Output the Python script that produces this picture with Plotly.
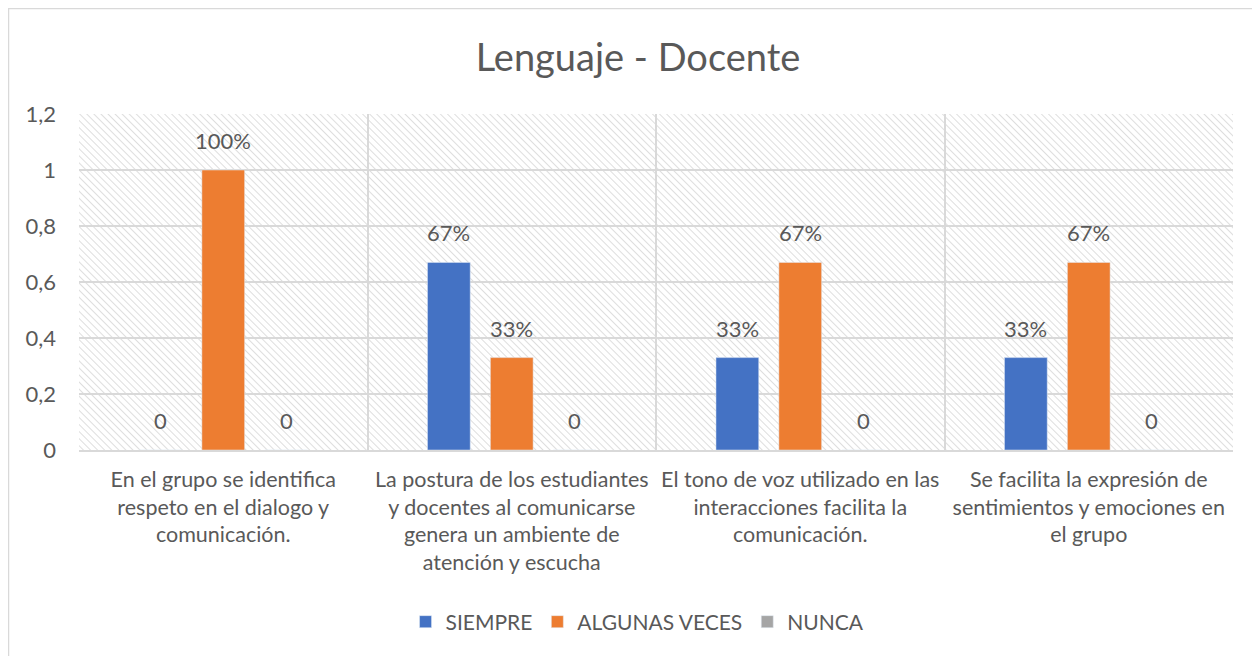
import plotly.graph_objects as go

categorias = [
    "En el grupo se identifica<br>respeto en el dialogo y<br>comunicación.",
    "La postura de los estudiantes<br>y docentes al comunicarse<br>genera un ambiente de<br>atención y escucha",
    "El tono de voz utilizado en las<br>interacciones facilita la<br>comunicación.",
    "Se facilita la expresión de<br>sentimientos y emociones en<br>el grupo",
]
siempre = [0, 0.67, 0.33, 0.33]
algunas_veces = [1, 0.33, 0.67, 0.67]
nunca = [0, 0, 0, 0]
y_ticks = [0, 0.2, 0.4, 0.6, 0.8, 1, 1.2]

W, H = 1260, 656
ML, MR, MT, MB = 71, 35, 106, 214
FONT = "Lato, 'Open Sans', sans-serif"
GRIS = "#595959"
BARGAP, GROUPGAP = 0.346, 0.32


def etiquetas(vals):
    return ["0" if v == 0 else f"{v:.0%}" for v in vals]


# fondo rayado estilo Excel
hatch = (
    "data:image/svg+xml;utf8,"
    "<svg xmlns='http://www.w3.org/2000/svg' width='100%' height='100%'>"
    "<defs><pattern id='p' width='5' height='5' patternUnits='userSpaceOnUse' "
    "patternTransform='rotate(-45)'>"
    "<line x1='0' y1='0' x2='0' y2='5' stroke='%23d6d6d6' stroke-width='1.6'/>"
    "</pattern></defs><rect width='100%' height='100%' fill='url(%23p)'/></svg>"
)

series = [
    ("SIEMPRE", siempre, "#4472c4"),
    ("ALGUNAS VECES", algunas_veces, "#ed7d31"),
    ("NUNCA", nunca, "#a5a5a5"),
]

pw = W - ML - MR
ph = H - MT - MB
slot = (1 - BARGAP) * pw / len(categorias) / len(series)

fig = go.Figure()
anots = []
for i, (nombre, vals, color) in enumerate(series):
    fig.add_trace(go.Bar(x=categorias, y=vals, name=nombre, marker_color=color))
    # etiquetas de datos separadas de la barra como en Excel
    for cat, v, t in zip(categorias, vals, etiquetas(vals)):
        anots.append(dict(x=cat, y=v, text=t, showarrow=False, yanchor="bottom",
                          xshift=(i - 1) * slot, yshift=14,
                          font=dict(size=22, color=GRIS, family=FONT)))

fig.update_layout(
    width=W, height=H,
    margin=dict(l=ML, r=MR, t=MT, b=MB),
    separators=",.",
    paper_bgcolor="white", plot_bgcolor="white",
    font=dict(family=FONT, color=GRIS),
    title=dict(text="Lenguaje - Docente", x=0.5, xanchor="center", y=1 - 50 / H,
               yanchor="middle", font=dict(size=38, color=GRIS, family=FONT)),
    barmode="group", bargap=BARGAP, bargroupgap=GROUPGAP,
    showlegend=True,
    legend=dict(orientation="h", x=0.484, xanchor="center", y=-(614 - MT - ph) / ph,
                yanchor="middle", font=dict(size=21, color=GRIS, family=FONT),
                itemwidth=30, traceorder="normal"),
    xaxis=dict(tickson="boundaries", showgrid=True, gridcolor="#d9d9d9", gridwidth=1.5,
               showline=True, linecolor="#d9d9d9", linewidth=1.5, ticks="",
               ticklabelstandoff=9,
               tickfont=dict(size=21.5, color=GRIS, family=FONT)),
    yaxis=dict(range=[0, 1.2], tickvals=y_ticks, showgrid=True, gridcolor="#d9d9d9",
               gridwidth=1.5, zeroline=False, ticks="", ticklabelstandoff=22,
               tickfont=dict(size=22, color=GRIS, family=FONT)),
    annotations=anots,
    images=[dict(source=hatch, xref="paper", yref="paper", x=0, y=1, sizex=1, sizey=1,
                 sizing="stretch", layer="below", xanchor="left", yanchor="top")],
    shapes=[dict(type="rect", xref="paper", yref="paper",
                 x0=-(ML - 0.5) / pw, x1=1 + (MR + 20) / pw,
                 y0=-(MB + 20) / ph, y1=1 + (MT - 0.5) / ph,
                 line=dict(color="#d9d9d9", width=1.5), layer="below")],
)

fig.write_html("out.html")
